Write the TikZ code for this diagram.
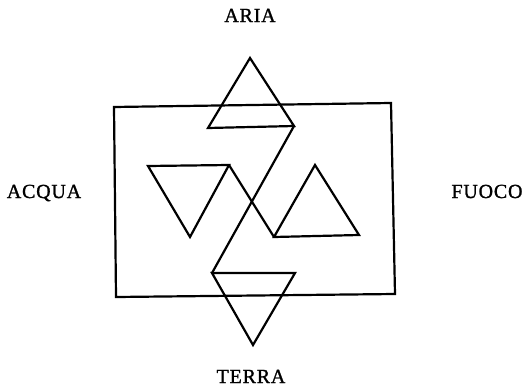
\documentclass[tikz,border=0pt]{standalone}
\usepackage{fontspec}
\setmainfont{Liberation Serif}[LetterSpace=4,FakeBold=1.2]
\begin{document}
\begin{tikzpicture}[x=1pt,y=-1pt,
  shape line/.style={line width=2.2pt,line join=miter,line cap=butt},
  label text/.style={font=\fontsize{20}{22}\selectfont,anchor=base,inner sep=0pt}]
\useasboundingbox (0,0) rectangle (530,388);
% rectangle
\coordinate (r1) at (114,107);
\coordinate (r2) at (391,103);
\coordinate (r3) at (395,294);
\coordinate (r4) at (116,297);
\draw[shape line] (r1) -- (r2) -- (r3) -- (r4) -- cycle;
% zigzag with triangles
\coordinate (ta) at (250,58);
\coordinate (tl) at (208,128);
\coordinate (tr) at (294,126);
\coordinate (bl) at (212,273);
\coordinate (br) at (295,273);
\coordinate (bb) at (253,345);
\coordinate (ll) at (148,166);
\coordinate (lr) at (229,165);
\coordinate (lb) at (190,237);
\coordinate (rl) at (274,237);
\coordinate (ra) at (315,165);
\coordinate (rr) at (359,235);
\draw[shape line] (tl) -- (ta) -- (tr) -- cycle;
\draw[shape line] (tr) -- (bl);
\draw[shape line] (bl) -- (br) -- (bb) -- cycle;
\draw[shape line] (ll) -- (lr) -- (lb) -- cycle;
\draw[shape line] (lr) -- (rl);
\draw[shape line] (rl) -- (ra) -- (rr) -- cycle;
% labels
\node[label text] (aria) at (250,22) {ARIA};
\node[label text] (acqua) at (44,198) {ACQUA};
\node[label text] (fuoco) at (487,198) {FUOCO};
\node[label text] (terra) at (251,383) {TERRA};
\end{tikzpicture}
\end{document}
